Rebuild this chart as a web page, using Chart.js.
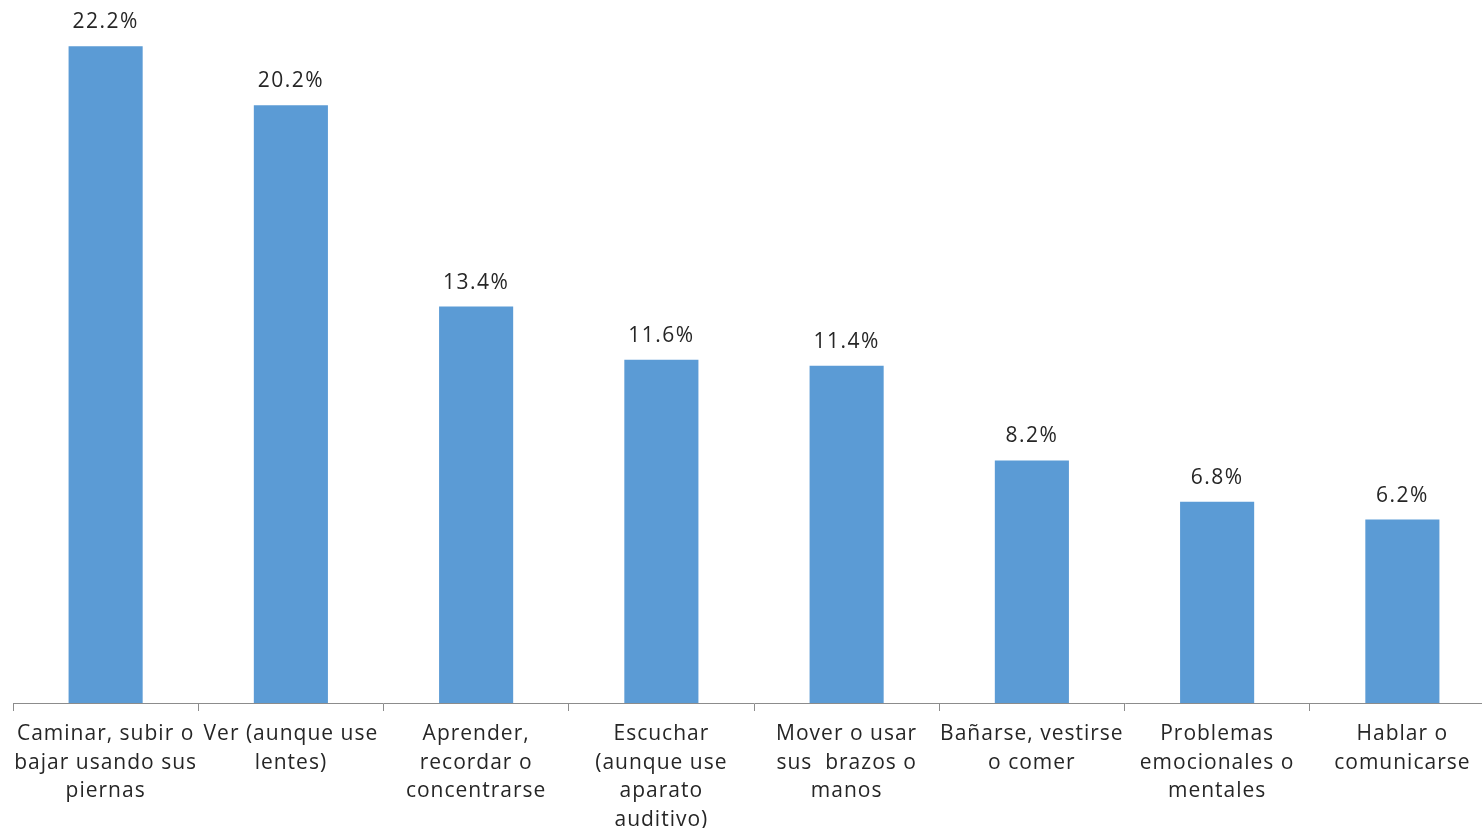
<!DOCTYPE html>
<html>
<head>
<meta charset="utf-8">
<script src="https://cdn.jsdelivr.net/npm/chart.js@4.4.1/dist/chart.umd.min.js"></script>
<style>
  html, body { margin: 0; padding: 0; background: #fff; overflow: hidden; }
  #wrap { width: 1498px; height: 828px; position: relative; }
</style>
</head>
<body>
<div id="wrap"><canvas id="chart"></canvas></div>
<script>
// --- DATA ---
const categories = [
    ['Caminar, subir o', 'bajar usando sus', 'piernas'],
    ['Ver (aunque use', 'lentes)'],
    ['Aprender,', 'recordar o', 'concentrarse'],
    ['Escuchar', '(aunque use', 'aparato', 'auditivo)'],
    ['Mover o usar', 'sus  brazos o', 'manos'],
    ['Bañarse, vestirse', 'o comer'],
    ['Problemas', 'emocionales o', 'mentales'],
    ['Hablar o', 'comunicarse']
];
const percentages = [22.2, 20.2, 13.4, 11.6, 11.4, 8.2, 6.8, 6.2];

const FONT = "'Open Sans', 'Noto Sans', sans-serif";

// wider lettering, like the original
const spacing = {
    id: 'spacing',
    beforeUpdate(chart) { chart.ctx.letterSpacing = '1px'; },
    beforeDraw(chart) { chart.ctx.letterSpacing = '1px'; }
};

// --- VALUE LABELS ---
const valueLabels = {
    id: 'valueLabels',
    afterDatasetsDraw(chart) {
        const ctx = chart.ctx;
        const meta = chart.getDatasetMeta(0);
        ctx.save();
        ctx.font = '21px ' + FONT;
        ctx.letterSpacing = '1.5px';
        ctx.fillStyle = '#262626';
        ctx.textAlign = 'center';
        ctx.textBaseline = 'middle';
        meta.data.forEach((bar, i) => {
            ctx.fillText(percentages[i].toFixed(1) + '%', bar.x, bar.y - 24);
        });
        ctx.restore();
    }
};

// --- CHART ---
new Chart(document.getElementById('chart'), {
    type: 'bar',
    data: {
        labels: categories,
        datasets: [{
            data: percentages,
            backgroundColor: '#5B9BD5',
            borderWidth: 0,
            barPercentage: 0.4,
            categoryPercentage: 1
        }]
    },
    options: {
        responsive: true,
        maintainAspectRatio: false,
        animation: false,
        layout: { padding: { left: 13, right: 3, top: 0, bottom: 0 } },
        plugins: { legend: { display: false }, tooltip: { enabled: false } },
        scales: {
            x: {
                offset: true,
                grid: {
                    offset: true,
                    drawOnChartArea: false,
                    drawTicks: true,
                    tickLength: 8,
                    color: '#8c8c8c'
                },
                border: { display: true, color: '#8c8c8c', width: 1 },
                ticks: {
                    autoSkip: false,
                    maxRotation: 0,
                    minRotation: 0,
                    padding: 9,
                    color: '#262626',
                    font: { family: FONT, size: 21, lineHeight: 1.36 }
                },
                afterFit(scale) { scale.height = 125; }
            },
            y: {
                display: false,
                min: 0,
                max: 23.76
            }
        }
    },
    plugins: [spacing, valueLabels]
});
</script>
</body>
</html>
